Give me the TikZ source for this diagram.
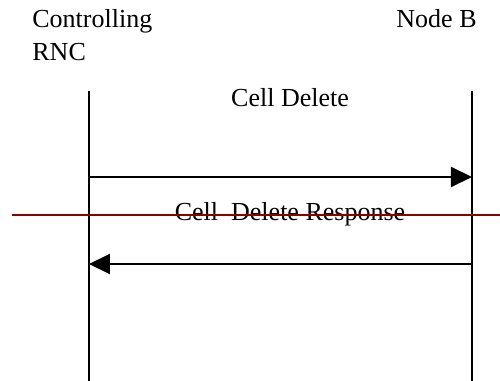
\documentclass[tikz,border=0pt]{standalone}
\usepackage{fontspec}
\setmainfont{Liberation Serif}
\usetikzlibrary{arrows.meta}
\definecolor{cutred}{RGB}{140,0,0}
\tikzset{
  caption/.style={inner sep=0pt,font=\fontsize{13}{16.5}\selectfont},
  lifeline/.style={line width=1pt},
  msg/.style={line width=1pt,-{Triangle[length=10.5pt,width=10pt]}}
}
\begin{document}
\begin{tikzpicture}[x=0.5pt,y=-0.5pt]
\useasboundingbox (0,0) rectangle (500,381);
\node (rnc) at (32,60) [caption,anchor=base west,align=left] {Controlling\\RNC};
\node (nodeb) at (477,27) [caption,anchor=base east] {Node B};
\coordinate (rnctop) at (89,91);
\coordinate (rncbot) at (89,381);
\coordinate (nbtop) at (472,91);
\coordinate (nbbot) at (472,381);
\coordinate (m1a) at (89,177);
\coordinate (m1b) at (472,177);
\coordinate (m2a) at (472,264);
\coordinate (m2b) at (89,264);
\coordinate (cuta) at (12,215);
\coordinate (cutb) at (500,215);
\node (del) at (290,106) [caption,anchor=base] {Cell Delete};
\node (resp) at (290,220) [caption,anchor=base] {Cell\ \ Delete Response};
\draw [lifeline] (rnctop) -- (rncbot);
\draw [lifeline] (nbtop) -- (nbbot);
\draw [msg] (m1a) -- (m1b);
\draw [msg] (m2a) -- (m2b);
\draw [cutred,line width=1pt] (cuta) -- (cutb);
\end{tikzpicture}
\end{document}
